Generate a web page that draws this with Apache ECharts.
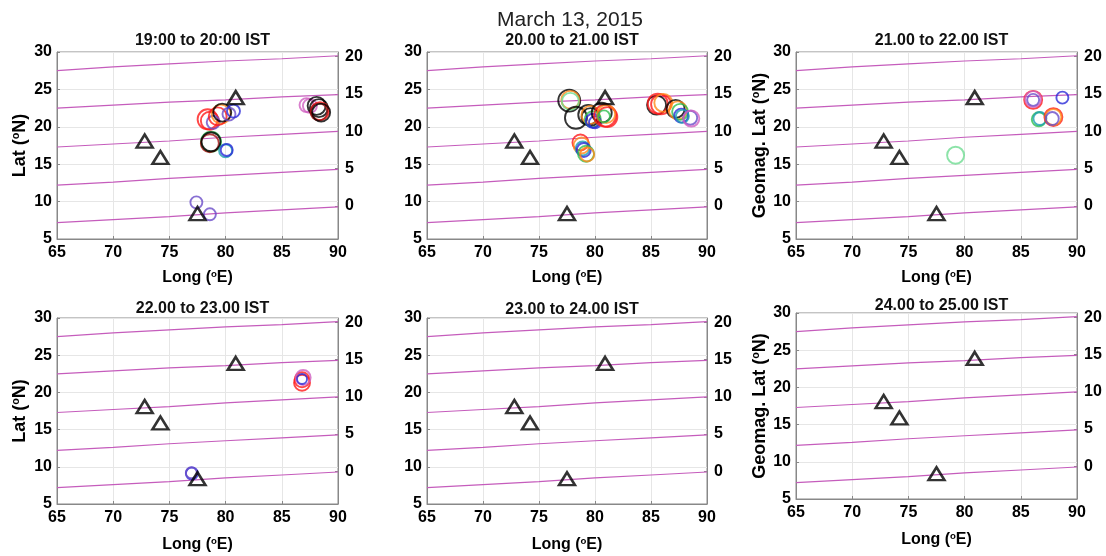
<!DOCTYPE html>
<html>
<head>
<meta charset="utf-8">
<script src="https://cdn.jsdelivr.net/npm/echarts@6/dist/echarts.min.js"></script>
<style>
  html, body { margin: 0; padding: 0; background: #fff; }
  #chart { width: 1106px; height: 556px; }
</style>
</head>
<body>
<div id="chart"></div>
<script>
// station positions (long, lat)
const stations = [[72.8, 18.1], [74.2, 15.9], [77.5, 8.4], [80.9, 23.9]]

// geomagnetic latitude contours, lat read at these longitudes
const geomagLons = [65, 70, 75, 80, 85, 90]
const geomag0 = [7.2, 7.6, 8.0, 8.5, 8.9, 9.3]
const geomag5 = [12.2, 12.6, 13.1, 13.5, 13.9, 14.3]
const geomag10 = [17.3, 17.7, 18.1, 18.6, 19.0, 19.4]
const geomag15 = [22.5, 22.9, 23.3, 23.6, 24.0, 24.3]
const geomag20 = [27.5, 28.0, 28.4, 28.8, 29.1, 29.5]

// right axis: geomag lat ticks, and the geographic lat where geomag 0 sits at 90E
const rightTicks = [0, 5, 10, 15, 20]
const geomagOffset = 9.4

// satellite colours (index used in the point lists)
const satColours = ["#000000", "#ff1a1a", "#2a2ad8", "#2fbf4f", "#1b9fb0", "#ff8a1a", "#d060c0", "#6a4cc8", "#6fdc92", "#a01010"]

// irregularity points per hour: [long, lat, size, satellite]
const hour1 = [
  [77.4, 9.9, 12, 7], [78.6, 8.3, 12, 7],
  [78.7, 18.0, 20, 3], [78.6, 17.8, 18, 9], [78.7, 18.0, 19, 0],
  [80.0, 16.8, 13, 4], [80.1, 16.9, 12, 2],
  [78.4, 21.0, 20, 1], [78.6, 20.8, 18, 1], [78.9, 20.6, 13, 7],
  [79.6, 21.7, 19, 5], [79.3, 21.4, 18, 1], [79.7, 21.9, 18, 0],
  [80.3, 21.7, 13, 7], [80.7, 22.1, 13, 2],
  [87.2, 22.9, 14, 6], [87.5, 22.8, 14, 6],
  [88.1, 22.8, 18, 0], [88.3, 22.5, 18, 0], [88.4, 22.1, 18, 1], [88.3, 22.0, 17, 9], [88.5, 21.9, 18, 0]
]
const hour2 = [
  [77.7, 23.5, 22, 0], [77.8, 23.6, 18, 5], [77.8, 23.4, 17, 8],
  [78.3, 21.2, 22, 0],
  [79.4, 21.6, 20, 0], [79.6, 21.3, 18, 0], [79.6, 21.6, 18, 5], [79.8, 21.0, 16, 3],
  [79.8, 20.8, 14, 2], [80.0, 20.6, 12, 2],
  [80.6, 21.9, 20, 0], [80.9, 21.5, 22, 1], [81.1, 21.3, 20, 1], [81.0, 21.7, 18, 5], [80.8, 21.4, 12, 3],
  [78.7, 17.9, 16, 1], [78.8, 17.5, 16, 5], [78.9, 17.1, 14, 4], [79.0, 16.9, 14, 2],
  [79.2, 16.4, 16, 3], [79.3, 16.3, 14, 5],
  [85.5, 22.9, 19, 0], [85.6, 23.1, 20, 1], [85.9, 23.0, 20, 1], [86.1, 23.2, 18, 5],
  [87.2, 22.4, 18, 0], [87.4, 22.2, 18, 5], [87.6, 22.0, 16, 3],
  [87.7, 21.5, 14, 2], [87.8, 21.4, 13, 4],
  [88.5, 21.2, 14, 7], [88.6, 21.1, 16, 6]
]
const hour3 = [
  [79.2, 16.2, 17, 8],
  [86.1, 23.6, 18, 1], [86.1, 23.7, 16, 6], [86.1, 23.6, 12, 7],
  [88.7, 23.9, 12, 2],
  [86.6, 21.0, 14, 3], [86.7, 21.1, 13, 4],
  [87.9, 21.3, 18, 1], [87.9, 21.3, 16, 5], [87.8, 21.1, 13, 7]
]
const hour4 = [
  [77.0, 9.1, 12, 2], [76.95, 9.2, 11, 7],
  [86.8, 21.3, 16, 1], [86.8, 21.7, 15, 1], [86.9, 22.0, 15, 6], [86.8, 21.8, 10, 2]
]
const hour5 = []
const hour6 = []

const hourPoints = [hour1, hour2, hour3, hour4, hour5, hour6]
const panelTitles = ["19:00 to 20:00 IST", "20.00 to 21.00 IST", "21.00 to 22.00 IST",
  "22.00 to 23.00 IST", "23.00 to 24.00 IST", "24.00 to 25.00 IST"]
const yNames = ["Lat", "", "Geomag. Lat", "Lat", "", "Geomag. Lat"]

// plot box of each panel in pixels, plus where its title sits
const boxes = [
  { left: 57, top: 52, width: 281, height: 187 },
  { left: 427, top: 52, width: 280, height: 187 },
  { left: 796, top: 52, width: 281, height: 187 },
  { left: 57, top: 318, width: 281, height: 186 },
  { left: 427, top: 318, width: 280, height: 186 },
  { left: 796, top: 313, width: 281, height: 186 },
]
const titleTops = [28, 28, 28, 296, 297, 293]

const font = "Liberation Sans, Arial, sans-serif"
const tickFont = { color: "#000", fontWeight: "bold", fontSize: 16, fontFamily: font }
const supRich = (size) => ({ sup: { fontSize: size * 0.6, fontWeight: "bold", fontFamily: font, verticalAlign: "top", padding: [0, 0, size * 0.4, 0] } })

const chart = echarts.init(document.getElementById("chart"))

const titles = [{
  text: "March 13, 2015",
  left: 565, top: 5, textAlign: "center",
  textStyle: { fontSize: 21, fontWeight: "normal", color: "#222", fontFamily: font },
}]
const grids = []
const xAxes = []
const yAxes = []
const series = []

boxes.forEach((b, i) => {
  titles.push({
    text: panelTitles[i],
    left: b.left + b.width / 2, top: titleTops[i], textAlign: "center",
    textStyle: { fontSize: 16, fontWeight: "bold", color: "#111", fontFamily: font },
  })
  grids.push({ ...b, show: true, borderColor: "#888", borderWidth: 1, backgroundColor: "#fff" })

  xAxes.push({
    gridIndex: i, type: "value", min: 65, max: 90, interval: 5,
    name: "Long ({sup|o}E)", nameLocation: "middle", nameGap: i < 3 ? 30 : 32,
    nameTextStyle: { ...tickFont, rich: supRich(16) },
    axisLine: { onZero: false, lineStyle: { color: "#888" } },
    axisTick: { inside: true, length: 3, lineStyle: { color: "#888" } },
    axisLabel: { ...tickFont, margin: 6 },
    splitLine: { show: true, lineStyle: { color: "#e6e6e6" } },
  })
  yAxes.push({
    gridIndex: i, type: "value", min: 5, max: 30, interval: 5, position: "left",
    name: yNames[i] ? yNames[i] + " ({sup|o}N)" : "", nameLocation: "middle", nameRotate: 90,
    nameGap: yNames[i] === "Lat" ? 28 : 27,
    nameTextStyle: { ...tickFont, fontSize: 18, rich: supRich(18) },
    axisLine: { show: true, onZero: false, lineStyle: { color: "#888" } },
    axisTick: { show: true, inside: true, length: 3, lineStyle: { color: "#888" } },
    axisLabel: { ...tickFont, margin: 5 },
    splitLine: { show: true, lineStyle: { color: "#e6e6e6" } },
  })
  yAxes.push({
    gridIndex: i, type: "value", position: "right",
    min: 5 - geomagOffset, max: 30 - geomagOffset,
    axisLine: { show: true, onZero: false, lineStyle: { color: "#888" } },
    axisTick: { show: true, inside: true, length: 3, customValues: rightTicks, lineStyle: { color: "#888" } },
    axisLabel: { ...tickFont, margin: 7, customValues: rightTicks },
    splitLine: { show: false },
  })

  const yIdx = i * 2;
  [geomag0, geomag5, geomag10, geomag15, geomag20].forEach((g) => {
    series.push({
      type: "line", xAxisIndex: i, yAxisIndex: yIdx, silent: true,
      showSymbol: false, symbol: "none", z: 2,
      lineStyle: { color: "#c55cbc", width: 1.2 },
      data: geomagLons.map((lon, k) => [lon, g[k]]),
    })
  })

  series.push({
    type: "scatter", xAxisIndex: i, yAxisIndex: yIdx, silent: true, z: 3,
    symbol: "circle",
    itemStyle: { color: "rgba(0,0,0,0)", borderWidth: 1.9 },
    data: hourPoints[i].map((p) => ({
      value: [p[0], p[1]],
      symbolSize: p[2],
      itemStyle: { borderColor: satColours[p[3]] },
    })),
  })

  series.push({
    type: "scatter", xAxisIndex: i, yAxisIndex: yIdx, silent: true, z: 4,
    symbol: "triangle", symbolSize: [16, 13],
    itemStyle: { color: "rgba(0,0,0,0)", borderColor: "#000", borderWidth: 2.5 },
    data: stations,
  })
})

chart.setOption({
  animation: false,
  backgroundColor: "#fff",
  title: titles,
  grid: grids,
  xAxis: xAxes,
  yAxis: yAxes,
  series: series,
})
</script>
</body>
</html>
